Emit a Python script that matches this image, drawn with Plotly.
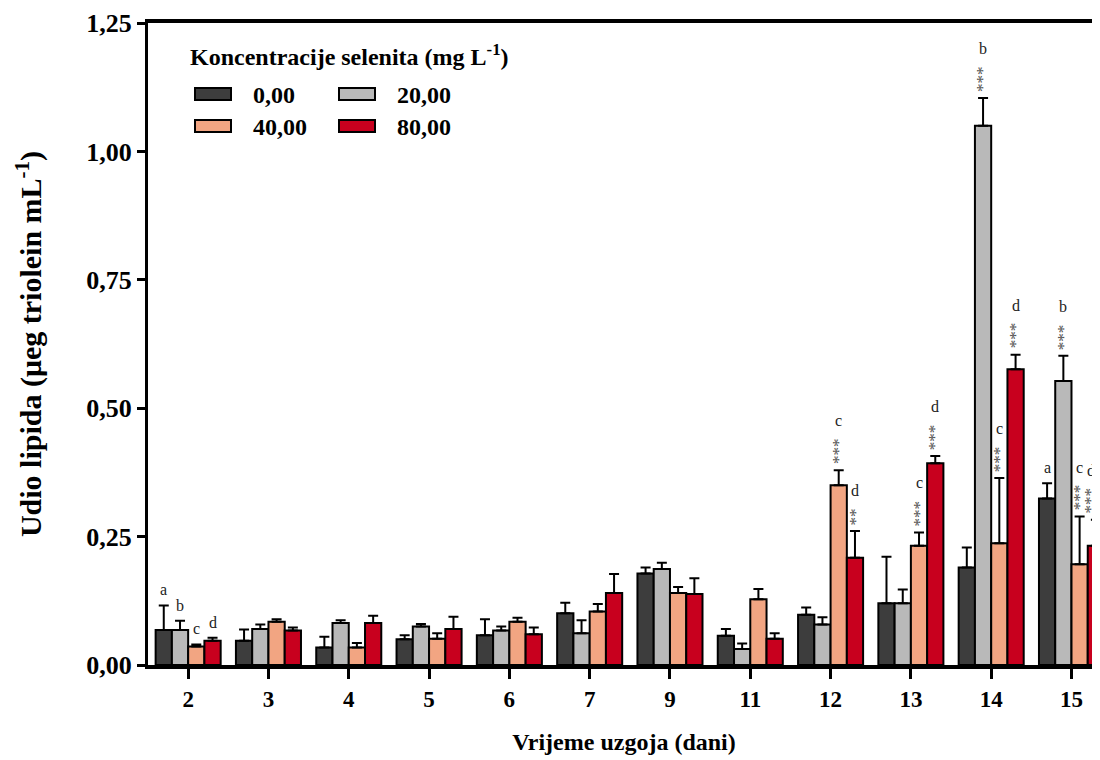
import plotly.graph_objects as go

days = ['2', '3', '4', '5', '6', '7', '9', '11', '12', '13', '14', '15']

conc_names = ['0,00', '20,00', '40,00', '80,00']
conc_colors = ['#3d3d3d', '#b9b9b9', '#f2a582', '#c8001e']

mean_0 = [0.068, 0.047, 0.034, 0.050, 0.058, 0.101, 0.178, 0.057, 0.098, 0.120, 0.190, 0.324]
sd_0 = [0.048, 0.022, 0.021, 0.008, 0.031, 0.020, 0.012, 0.013, 0.014, 0.091, 0.039, 0.030]

mean_20 = [0.068, 0.070, 0.082, 0.075, 0.067, 0.062, 0.187, 0.031, 0.079, 0.120, 1.050, 0.553]
sd_20 = [0.018, 0.009, 0.005, 0.005, 0.008, 0.025, 0.012, 0.011, 0.014, 0.027, 0.054, 0.049]

mean_40 = [0.036, 0.084, 0.034, 0.051, 0.084, 0.104, 0.140, 0.128, 0.350, 0.232, 0.237, 0.196]
sd_40 = [0.004, 0.005, 0.009, 0.011, 0.008, 0.015, 0.012, 0.020, 0.029, 0.026, 0.127, 0.093]

mean_80 = [0.047, 0.067, 0.082, 0.070, 0.060, 0.140, 0.138, 0.051, 0.209, 0.393, 0.576, 0.232]
sd_80 = [0.006, 0.006, 0.014, 0.024, 0.013, 0.037, 0.031, 0.011, 0.052, 0.014, 0.028, 0.051]

# (day, series index, letter, stars)
sig_marks = [
    ('2', 0, 'a', ''), ('2', 1, 'b', ''), ('2', 2, 'c', ''), ('2', 3, 'd', ''),
    ('12', 2, 'c', '***'), ('12', 3, 'd', '**'),
    ('13', 2, 'c', '***'), ('13', 3, 'd', '***'),
    ('14', 1, 'b', '***'), ('14', 2, 'c', '***'), ('14', 3, 'd', '***'),
    ('15', 0, 'a', ''), ('15', 1, 'b', '***'), ('15', 2, 'c', '***'), ('15', 3, 'd', '***'),
]

means = [mean_0, mean_20, mean_40, mean_80]
sds = [sd_0, sd_20, sd_40, sd_80]

serif = "Liberation Serif"
bargap = 0.19
bar_w = (1 - bargap) / len(conc_names)
x_pos = list(range(len(days)))
x_range = [-0.5, 11.355]

fig = go.Figure()

for k, name in enumerate(conc_names):
    fig.add_bar(
        x=x_pos,
        y=means[k],
        name=name,
        marker_color=conc_colors[k],
        marker_line_color='black',
        marker_line_width=2,
        error_y=dict(type='data', array=sds[k], arrayminus=[0] * len(days), symmetric=False,
                     color='black', thickness=2, width=5),
        showlegend=False,
    )

#### significance letters / stars
for day, k, letter, stars in sig_marks:
    i = days.index(day)
    xa = i + (k - 1.5) * bar_w
    top = means[k][i] + sds[k][i]
    n = len(stars)
    # keep labels of the last (cut) bar inside the page
    xs = -5 if x_range[1] - xa < 0.1 else 0
    if n:
        fig.add_annotation(x=xa, y=top, text=stars, textangle=-90, showarrow=False,
                           yanchor='bottom', yshift=4, xshift=xs,
                           font=dict(family=serif, size=17, color='#555555'))
    fig.add_annotation(x=xa, y=top, text=letter, showarrow=False,
                       yanchor='bottom', yshift=(4 + n * 9 + 8) if n else 5, xshift=xs,
                       font=dict(family=serif, size=16, color='#222222'))

#### legend (drawn by hand, two columns) - positions in page pixels
L, R, T, B = 148, 1100, 23, 665
def px(x):
    return (x - L) / (R - L)
def py(y):
    return (B - y) / (B - T)

fig.add_annotation(xref='paper', yref='paper', x=px(188), y=py(55), xanchor='left', yanchor='middle',
                   text='<b>Koncentracije selenita (mg L<sup>-1</sup>)</b>', showarrow=False,
                   font=dict(family=serif, size=24, color='black'))

legend_cols = [195, 339]
legend_rows = [94, 126]
for k, name in enumerate(conc_names):
    cx = legend_cols[k % 2]
    cy = legend_rows[k // 2]
    fig.add_shape(type='rect', xref='paper', yref='paper',
                  x0=px(cx), x1=px(cx + 36), y0=py(cy - 6), y1=py(cy + 6),
                  fillcolor=conc_colors[k], line=dict(color='black', width=2))
    fig.add_annotation(xref='paper', yref='paper', x=px(cx + 56), y=py(cy + 1), xanchor='left',
                       yanchor='middle', text=f'<b>{name}</b>', showarrow=False,
                       font=dict(family=serif, size=24, color='black'))

fig.update_xaxes(
    range=x_range,
    tickvals=x_pos,
    ticktext=days,
    ticks='outside', ticklen=10, tickwidth=3, tickcolor='black',
    showline=True, linewidth=4, linecolor='black', mirror=True,
    showgrid=False, zeroline=False, automargin=False,
    tickfont=dict(family=serif, size=23, color='black', weight='bold'),
    title=dict(text='<b>Vrijeme uzgoja (dani)</b>', font=dict(family=serif, size=24, color='black'), standoff=24),
)

fig.update_yaxes(
    range=[0, 1.25],
    tickvals=[0, 0.25, 0.5, 0.75, 1.0, 1.25],
    tickformat='.2f',
    ticks='outside', ticklen=8, tickwidth=3, tickcolor='black',
    showline=True, linewidth=3, linecolor='black',
    showgrid=False, zeroline=False, automargin=False,
    tickfont=dict(family=serif, size=26, color='black', weight='bold'),
    title=dict(text='<b>Udio lipida (μeg triolein mL<sup>-1</sup>)</b>', font=dict(family=serif, size=30, color='black'), standoff=36),
)

# the page body adds an 8px margin, so the figure is drawn 8px smaller
fig.update_layout(
    width=1092,
    height=752,
    barmode='group',
    bargap=bargap,
    bargroupgap=0,
    separators=',.',
    plot_bgcolor='white',
    paper_bgcolor='white',
    margin=dict(l=140, r=0, t=15, b=95),
)

fig.write_html("out.html")
